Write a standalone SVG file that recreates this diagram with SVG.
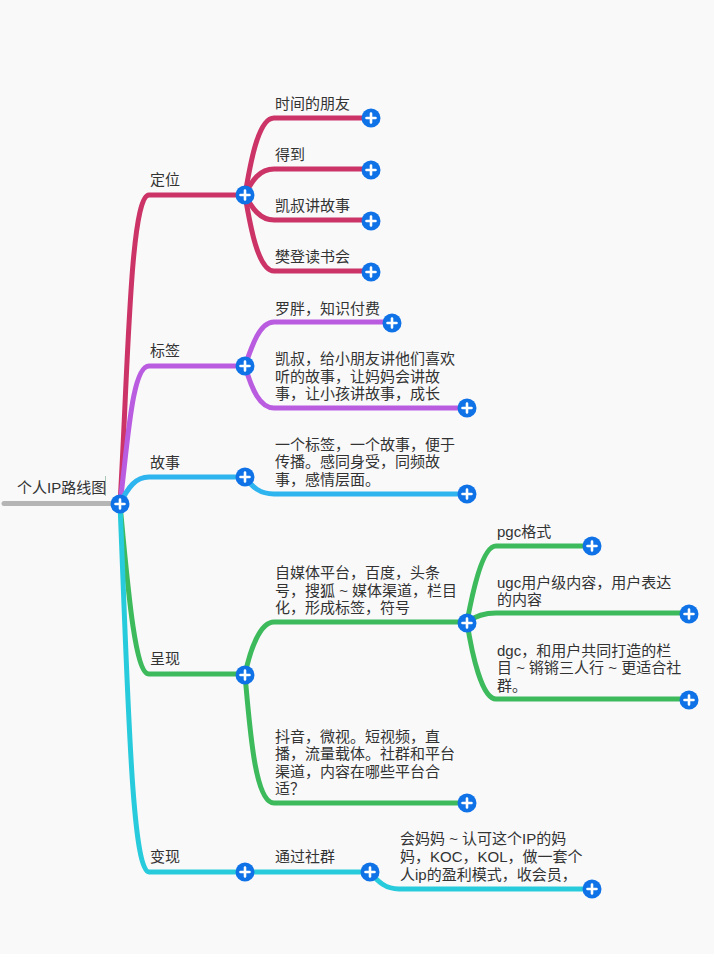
<svg xmlns="http://www.w3.org/2000/svg" width="714" height="954" viewBox="0 0 714 954">
<style>
text{font-family:"Liberation Sans","Noto Sans CJK SC",sans-serif;font-size:15px;fill:#333}
.c{fill:none;stroke-width:5;stroke-linecap:round}
.r{stroke:#cc3366}.p{stroke:#b95ce0}.b{stroke:#2eb4ee}.g{stroke:#3dba5c}.t{stroke:#28cbdc}
.d{fill:#0f72e6}
.x{stroke:#fff;stroke-width:2.6;stroke-linecap:round}
</style>
<defs>
<g id="plus"><circle class="d" r="9.5"/><path class="x" d="M-4.500 0H4.500M0-4.500V4.500"/></g>
</defs>
<rect width="714" height="954" fill="#f9f9fa"/>
<g id="connectors">
<path class="c" style="stroke:#b5b5b5" d="M4 503.500H118"/>
<path class="c r" d="M120 504C128 370 130 195 149 195H245"/>
<path class="c p" d="M120 504C128 440 132 366 149 366H245"/>
<path class="c b" d="M120 504C128 487 136 477 149 477H245"/>
<path class="c g" d="M120 504C128 590 135 674 149 674H245"/>
<path class="c t" d="M120 504C128 700 132 872 149 872H245"/>
<path class="c t" d="M245 872H370"/>
<path class="c r" d="M245 195C250 165 258 118 274 118H371"/>
<path class="c r" d="M245 195C252 180 260 169 274 169H371"/>
<path class="c r" d="M245 195C252 208 260 220 274 220H371"/>
<path class="c r" d="M245 195C250 225 258 271 274 271H371"/>
<path class="c p" d="M245 366C252 345 260 322 274 322H392"/>
<path class="c p" d="M245 366C252 390 260 408 274 408H467"/>
<path class="c b" d="M245 477C252 487 260 494 274 494H467"/>
<path class="c g" d="M245 675C250 650 260 622 274 622H467"/>
<path class="c g" d="M245 675C250 730 255 803 274 803H467"/>
<path class="c g" d="M467 622C472 595 482 546 496 546H592"/>
<path class="c g" d="M467 622C474 617 482 613 496 613H689"/>
<path class="c g" d="M467 622C472 655 482 699 496 699H689"/>
<path class="c t" d="M370 872C378 882 386 889 399 889H592"/>
<path d="M105.500 476V496" stroke="#a9c9b8" stroke-width="1" fill="none"/>
</g>
<g id="root"><text x="17" y="493">个人IP路线图</text><use href="#plus" x="120" y="504"/></g>
<g id="n-dingwei"><text x="150" y="185">定位</text><use href="#plus" x="245" y="195"/></g>
<g id="n-shijian"><text x="275" y="109">时间的朋友</text><use href="#plus" x="371" y="118"/></g>
<g id="n-dedao"><text x="275" y="160">得到</text><use href="#plus" x="371" y="170"/></g>
<g id="n-kaishu"><text x="275" y="211">凯叔讲故事</text><use href="#plus" x="371" y="221"/></g>
<g id="n-fandeng"><text x="275" y="262">樊登读书会</text><use href="#plus" x="371" y="272"/></g>
<g id="n-biaoqian"><text x="150" y="356">标签</text><use href="#plus" x="245" y="366"/></g>
<g id="n-luopang"><text x="275" y="314">罗胖，知识付费</text><use href="#plus" x="392" y="323"/></g>
<g id="n-kaishu2"><text x="275" y="364">凯叔，给小朋友讲他们喜欢</text><text x="275" y="382">听的故事，让妈妈会讲故</text><text x="275" y="399">事，让小孩讲故事，成长</text><use href="#plus" x="467" y="408"/></g>
<g id="n-gushi"><text x="150" y="468">故事</text><use href="#plus" x="245" y="477"/></g>
<g id="n-yige"><text x="275" y="450">一个标签，一个故事，便于</text><text x="275" y="467">传播。感同身受，同频故</text><text x="275" y="485">事，感情层面。</text><use href="#plus" x="467" y="494"/></g>
<g id="n-chengxian"><text x="150" y="664">呈现</text><use href="#plus" x="245" y="675"/></g>
<g id="n-zimeiti"><text x="275" y="578">自媒体平台，百度，头条</text><text x="275" y="596">号，搜狐 ~ 媒体渠道，栏目</text><text x="275" y="613">化，形成标签，符号</text><use href="#plus" x="467" y="623"/></g>
<g id="n-pgc"><text x="497" y="537">pgc格式</text><use href="#plus" x="592" y="546"/></g>
<g id="n-ugc"><text x="497" y="588">ugc用户级内容，用户表达</text><text x="497" y="605">的内容</text><use href="#plus" x="689" y="614"/></g>
<g id="n-dgc"><text x="497" y="656">dgc，和用户共同打造的栏</text><text x="497" y="673">目 ~ 锵锵三人行 ~ 更适合社</text><text x="497" y="691">群。</text><use href="#plus" x="689" y="700"/></g>
<g id="n-douyin"><text x="275" y="742">抖音，微视。短视频，直</text><text x="275" y="759">播，流量载体。社群和平台</text><text x="275" y="777">渠道，内容在哪些平台合</text><text x="275" y="794">适？</text><use href="#plus" x="467" y="803"/></g>
<g id="n-bianxian"><text x="150" y="862">变现</text><use href="#plus" x="245" y="872"/></g>
<g id="n-shequn"><text x="275" y="862">通过社群</text><use href="#plus" x="370" y="872"/></g>
<g id="n-huimama"><text x="400" y="844">会妈妈 ~ 认可这个IP的妈</text><text x="400" y="862">妈，KOC，KOL，做一套个</text><text x="400" y="880">人ip的盈利模式，收会员，</text><use href="#plus" x="592" y="889"/></g>
</svg>
